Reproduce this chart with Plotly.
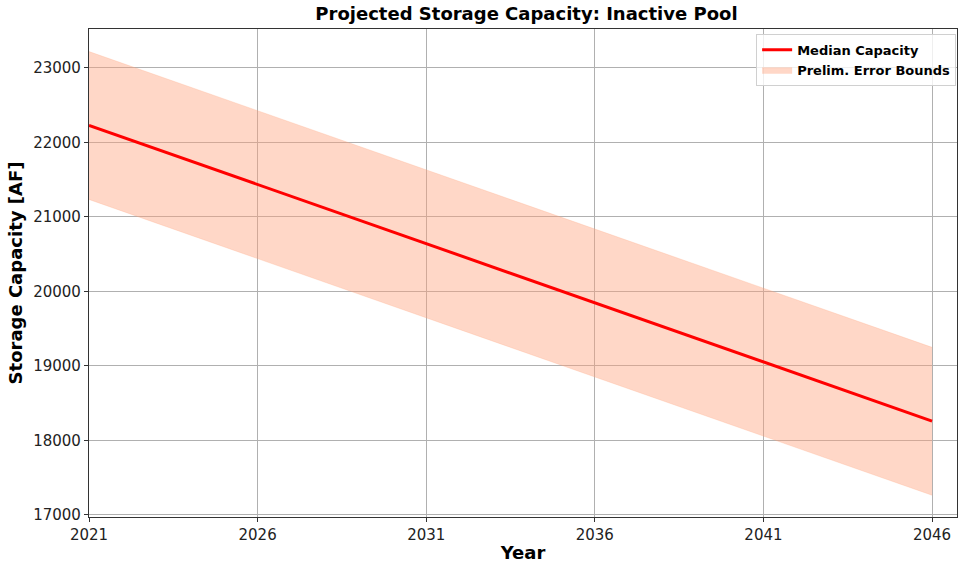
import plotly.graph_objs as go

# values
years = [2021, 2026, 2031, 2036, 2041, 2046]
median_capacity = [22230, 21436, 20642, 19848, 19054, 18260]
upper_bound = [23220, 22426, 21632, 20838, 20044, 19250]
lower_bound = [21235, 20441, 19647, 18853, 18059, 17265]
x_ticks = [2021, 2026, 2031, 2036, 2041, 2046]
y_ticks = [17000, 18000, 19000, 20000, 21000, 22000, 23000]

band_color = "rgba(255,160,122,0.42)"
font = "DejaVu Sans"

fig = go.Figure()
fig.add_trace(go.Scatter(x=years, y=lower_bound, mode="lines",
                         line=dict(color=band_color, width=0.6),
                         showlegend=False, hoverinfo="skip"))
fig.add_trace(go.Scatter(x=years, y=upper_bound, mode="lines", fill="tonexty",
                         fillcolor=band_color, line=dict(color=band_color, width=0.6),
                         name="<b>Prelim. Error Bounds</b>", legendrank=2))
fig.add_trace(go.Scatter(x=years, y=median_capacity, mode="lines",
                         line=dict(color="#ff0000", width=3),
                         name="<b>Median Capacity</b>", legendrank=1))

axis_common = dict(showgrid=True, gridcolor="#b0b0b0", gridwidth=1,
                   showline=True, linecolor="#333333", linewidth=1.2, mirror=True,
                   ticks="outside", ticklen=4, tickcolor="#333333",
                   tickfont=dict(family=font, size=15, color="#222222"),
                   zeroline=False, automargin=False)

fig.update_xaxes(range=[2021, 2046.74], tickvals=x_ticks, tickformat="d",
                 title=dict(text="<b>Year</b>", font=dict(family=font, size=18, color="black"), standoff=3),
                 **axis_common)
fig.update_yaxes(range=[16973, 23523], tickvals=y_ticks, tickformat="d",
                 title=dict(text="<b>Storage Capacity [AF]</b>", font=dict(family=font, size=18, color="black"), standoff=5),
                 **axis_common)

fig.update_layout(
    width=959, height=564,
    margin=dict(l=89, r=2, t=29, b=47),
    paper_bgcolor="white", plot_bgcolor="white",
    title=dict(text="<b>Projected Storage Capacity: Inactive Pool</b>",
               font=dict(family=font, size=18, color="black"),
               x=0.504, xanchor="center", xref="paper", y=0.975, yanchor="middle"),
    legend=dict(x=0.999, y=0.99, xanchor="right", yanchor="top",
                bgcolor="rgba(255,255,255,0.8)", bordercolor="#d0d0d0", borderwidth=1,
                font=dict(family=font, size=13, color="black"), traceorder="normal",
                tracegroupgap=0),
    showlegend=True,
)

fig.write_html("out.html", config={"displayModeBar": False},
               post_script="document.body.style.margin='0';")
